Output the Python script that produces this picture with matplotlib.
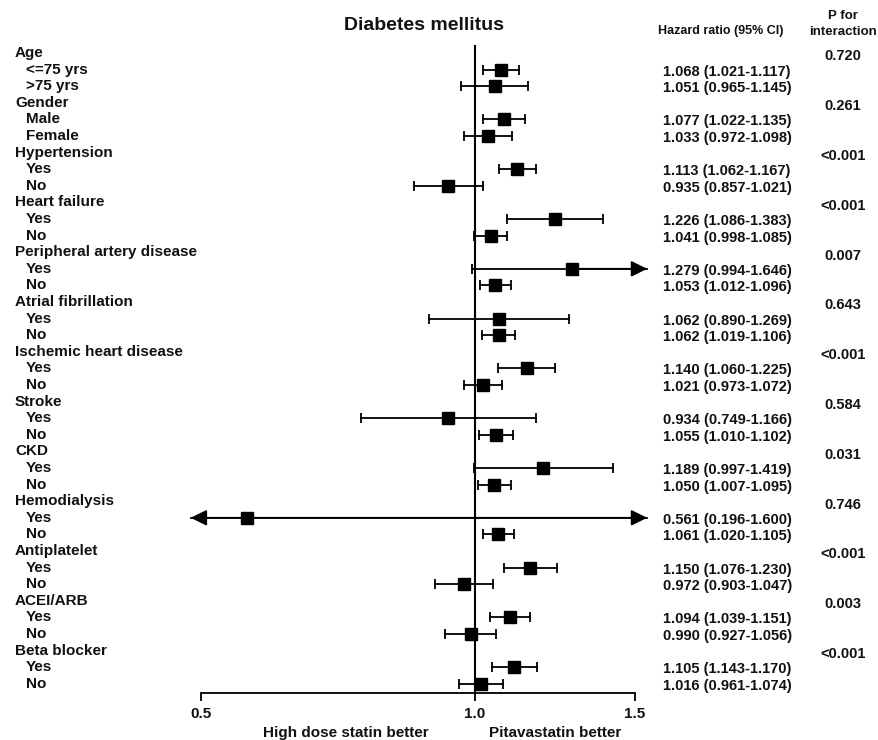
import matplotlib
matplotlib.use('Agg')
import matplotlib.pyplot as plt
import matplotlib.transforms as mtransforms

plt.rcParams['font.family'] = ['Liberation Sans', 'DejaVu Sans']
plt.rcParams['font.weight'] = 'bold'

# subgroup data
groups = ['Age', 'Gender', 'Hypertension', 'Heart failure', 'Peripheral artery disease',
          'Atrial fibrillation', 'Ischemic heart disease', 'Stroke', 'CKD', 'Hemodialysis',
          'Antiplatelet', 'ACEI/ARB', 'Beta blocker']
sub_labels = [['<=75 yrs', '>75 yrs'], ['Male', 'Female']] + [['Yes', 'No']] * 11
p_values = ['0.720', '0.261', '<0.001', '<0.001', '0.007', '0.643', '<0.001',
            '0.584', '0.031', '0.746', '<0.001', '0.003', '<0.001']

hr = [1.068, 1.051, 1.077, 1.033, 1.113, 0.935, 1.226, 1.041, 1.279, 1.053,
      1.062, 1.062, 1.140, 1.021, 0.934, 1.055, 1.189, 1.050, 0.561, 1.061,
      1.150, 0.972, 1.094, 0.990, 1.105, 1.016]
ci_low = [1.021, 0.965, 1.022, 0.972, 1.062, 0.857, 1.086, 0.998, 0.994, 1.012,
          0.890, 1.019, 1.060, 0.973, 0.749, 1.010, 0.997, 1.007, 0.196, 1.020,
          1.076, 0.903, 1.039, 0.927, 1.045, 0.961]
ci_high = [1.117, 1.145, 1.135, 1.098, 1.167, 1.021, 1.383, 1.085, 1.646, 1.096,
           1.269, 1.106, 1.225, 1.072, 1.166, 1.102, 1.419, 1.095, 1.600, 1.105,
           1.230, 1.047, 1.151, 1.056, 1.170, 1.074]
# printed text (as in the original table)
hr_text = ['1.068 (1.021-1.117)', '1.051 (0.965-1.145)', '1.077 (1.022-1.135)',
           '1.033 (0.972-1.098)', '1.113 (1.062-1.167)', '0.935 (0.857-1.021)',
           '1.226 (1.086-1.383)', '1.041 (0.998-1.085)', '1.279 (0.994-1.646)',
           '1.053 (1.012-1.096)', '1.062 (0.890-1.269)', '1.062 (1.019-1.106)',
           '1.140 (1.060-1.225)', '1.021 (0.973-1.072)', '0.934 (0.749-1.166)',
           '1.055 (1.010-1.102)', '1.189 (0.997-1.419)', '1.050 (1.007-1.095)',
           '0.561 (0.196-1.600)', '1.061 (1.020-1.105)', '1.150 (1.076-1.230)',
           '0.972 (0.903-1.047)', '1.094 (1.039-1.151)', '0.990 (0.927-1.056)',
           '1.105 (1.143-1.170)', '1.016 (0.961-1.074)']
x_ticks = [0.5, 1.0, 1.5]
x_ticklabels = ['0.5', '1.0', '1.5']

W, H = 879, 740
fig = plt.figure(figsize=(W / 100, H / 100), dpi=100)


def fx(px):
    return px / W


def fy(py):
    return 1 - py / H


row_px0, row_step = 53, 16.6
top_px, bot_px = 45, 693
ax = fig.add_axes([fx(189), fy(bot_px), fx(648) - fx(189), (bot_px - top_px) / H])
ax.set_xscale('log')
ax.set_xlim(0.485, 1.55)
ax.set_ylim((bot_px - row_px0) / row_step, (top_px - row_px0) / row_step)

lo_clip, hi_clip = 0.487, 1.547
txt = '#111111'
trans = mtransforms.blended_transform_factory(fig.transFigure, ax.transData)
arrow_kw = dict(arrowstyle='-|>,head_length=0.65,head_width=0.32', color='black',
                lw=1.3, mutation_scale=15, shrinkA=0, shrinkB=0)

row = 0
k = 0
for g, subs, p in zip(groups, sub_labels, p_values):
    ax.text(fx(15), row, g, transform=trans, fontsize=11, va='center', color=txt)
    ax.text(fx(843), row + 0.2, p, transform=trans, fontsize=10.5, va='center',
            ha='center', color=txt)
    row += 1
    for s in subs:
        ax.text(fx(26), row, s, transform=trans, fontsize=11, va='center', color=txt)
        ax.text(fx(663), row + 0.12, hr_text[k], transform=trans, fontsize=10.5,
                va='center', color=txt)
        lo, hi = ci_low[k], ci_high[k]
        lo_c, hi_c = max(lo, lo_clip), min(hi, hi_clip)
        ax.plot([lo_c, hi_c], [row, row], color='black', lw=1.3, clip_on=False)
        if lo < lo_clip:
            ax.annotate('', xy=(lo_clip, row), xytext=(hr[k], row),
                        arrowprops=arrow_kw, annotation_clip=False)
        else:
            ax.plot([lo], [row], marker='|', ms=7.5, mew=1.3, color='black', clip_on=False)
        if hi > hi_clip:
            ax.annotate('', xy=(hi_clip, row), xytext=(hr[k], row),
                        arrowprops=arrow_kw, annotation_clip=False)
        else:
            ax.plot([hi], [row], marker='|', ms=7.5, mew=1.3, color='black', clip_on=False)
        ax.plot([hr[k]], [row], marker='s', ms=8, color='black', clip_on=False, zorder=5)
        row += 1
        k += 1

ax.axvline(1.0, color='black', lw=1.5)

for side in ['top', 'right', 'left']:
    ax.spines[side].set_visible(False)
ax.spines['bottom'].set_bounds(0.5, 1.5)
ax.spines['bottom'].set_linewidth(1.3)
ax.set_yticks([])
ax.set_xticks(x_ticks)
ax.set_xticklabels(x_ticklabels)
ax.xaxis.set_minor_locator(matplotlib.ticker.NullLocator())
ax.tick_params(axis='x', direction='out', length=6, width=1.3, pad=4,
               labelsize=11, labelcolor=txt)
for t in ax.get_xticklabels():
    t.set_fontweight('bold')

fig.text(fx(424), fy(26), 'Diabetes mellitus', fontsize=14, ha='center', va='center', color=txt)
fig.text(fx(658), fy(31), 'Hazard ratio (95% CI)', fontsize=9, ha='left', va='center', color=txt)
fig.text(fx(843), fy(16), 'P for', fontsize=9.5, ha='center', va='center', color=txt)
fig.text(fx(843), fy(32), 'interaction', fontsize=9.5, ha='center', va='center', color=txt)
fig.text(fx(346), fy(733), 'High dose statin better', fontsize=11, ha='center', va='center', color=txt)
fig.text(fx(555), fy(733), 'Pitavastatin better', fontsize=11, ha='center', va='center', color=txt)

fig.savefig('out.png', dpi=100)
